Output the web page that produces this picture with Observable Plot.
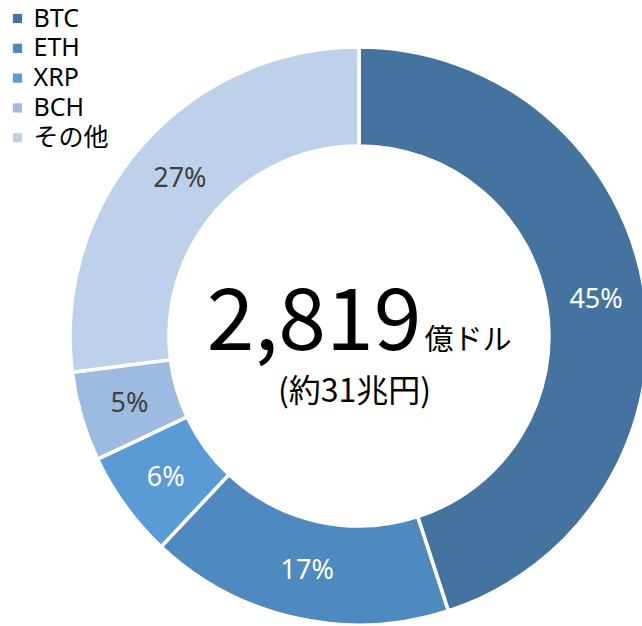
<!DOCTYPE html>
<html>
<head>
<meta charset="utf-8">
<script src="https://cdn.jsdelivr.net/npm/d3@7"></script>
<script src="https://cdn.jsdelivr.net/npm/@observablehq/plot@0.6"></script>
<style>
  html, body { margin: 0; padding: 0; background: #fff; }
  #chart { width: 642px; height: 626px; overflow: hidden; }
</style>
</head>
<body>
<div id="chart"></div>
<script>
// ---- data ----
const categories = ["BTC", "ETH", "XRP", "BCH", "その他"];
const shares = [45, 17, 6, 5, 27];
const shareLabels = ["45%", "17%", "6%", "5%", "27%"];
const colors = ["#44739f", "#4e89bf", "#5b9bd5", "#9dbbe0", "#bdd2ea"];
const labelColors = ["#ffffff", "#ffffff", "#ffffff", "#404040", "#404040"];
const totalValue = "2,819";
const totalUnit = "億ドル";
const totalYen = "(約31兆円)";

// ---- layout ----
const W = 642, H = 626;
const CX = 359, CY = 336, R_IN = 190, R_OUT = 289;
const FONT = "'Noto Sans CJK JP', 'Noto Sans', sans-serif";
const LATIN = "'Noto Sans', 'Noto Sans CJK JP', sans-serif";

const data = categories.map((c, i) => ({cat: c, share: shares[i], label: shareLabels[i], lc: labelColors[i]}));
const arcs = d3.pie().sort(null).value(d => d.share)(data);
const arcGen = d3.arc().innerRadius(R_IN).outerRadius(R_OUT);
const labelData = arcs.map(a => {
  const [dx, dy] = arcGen.centroid(a);
  return {...a.data, x: CX + dx, y: CY + dy};
});
const legendData = categories.map((c, i) => ({cat: c, row: i}));

function donutMark(index, scales, values, dimensions, context) {
  const g = d3.create("svg:g");
  const cx = scales.x(CX), cy = scales.y(CY);
  const color = scales.color || (c => colors[categories.indexOf(c)]);
  g.selectAll("path")
    .data(arcs)
    .join("path")
    .attr("transform", `translate(${cx},${cy})`)
    .attr("d", arcGen)
    .attr("fill", d => color(d.data.cat))
    .attr("stroke", "#ffffff")
    .attr("stroke-width", 3.5)
    .attr("stroke-linejoin", "miter");
  return g.node();
}

const chart = Plot.plot({
  width: W,
  height: H,
  margin: 0,
  x: {domain: [0, W], range: [0, W], axis: null},
  y: {domain: [0, H], range: [0, H], axis: null},
  color: {domain: categories, range: colors, legend: false},
  style: {fontFamily: FONT, background: "#fff", overflow: "hidden"},
  marks: [
    donutMark,
    Plot.text(labelData, {
      x: "x", y: "y", text: "label", fill: "lc",
      fontSize: 27, fontFamily: LATIN, lineAnchor: "middle", textAnchor: "middle"
    }),
    Plot.text([totalValue], {
      x: () => 421, y: () => 349, text: d => d,
      fontSize: 86, fontFamily: FONT, fill: "#000", textAnchor: "end", lineAnchor: "bottom"
    }),
    Plot.text([totalUnit], {
      x: () => 424, y: () => 349, text: d => d,
      fontSize: 29, fontFamily: FONT, fill: "#000", textAnchor: "start", lineAnchor: "bottom"
    }),
    Plot.text([totalYen], {
      x: () => 354, y: () => 391, text: d => d,
      fontSize: 32, fontFamily: FONT, fill: "#000", textAnchor: "middle", lineAnchor: "middle"
    }),
    Plot.dot(legendData, {
      x: () => 17, y: d => 18 + d.row * 29.8, fill: "cat",
      symbol: "square", r: 5.2, stroke: null
    }),
    Plot.text(legendData, {
      x: () => 33, y: d => 18 + d.row * 29.8, text: "cat",
      fontSize: 25, fontFamily: LATIN, fill: "#000", textAnchor: "start", lineAnchor: "middle"
    })
  ]
});
document.getElementById("chart").appendChild(chart);
</script>
</body>
</html>
